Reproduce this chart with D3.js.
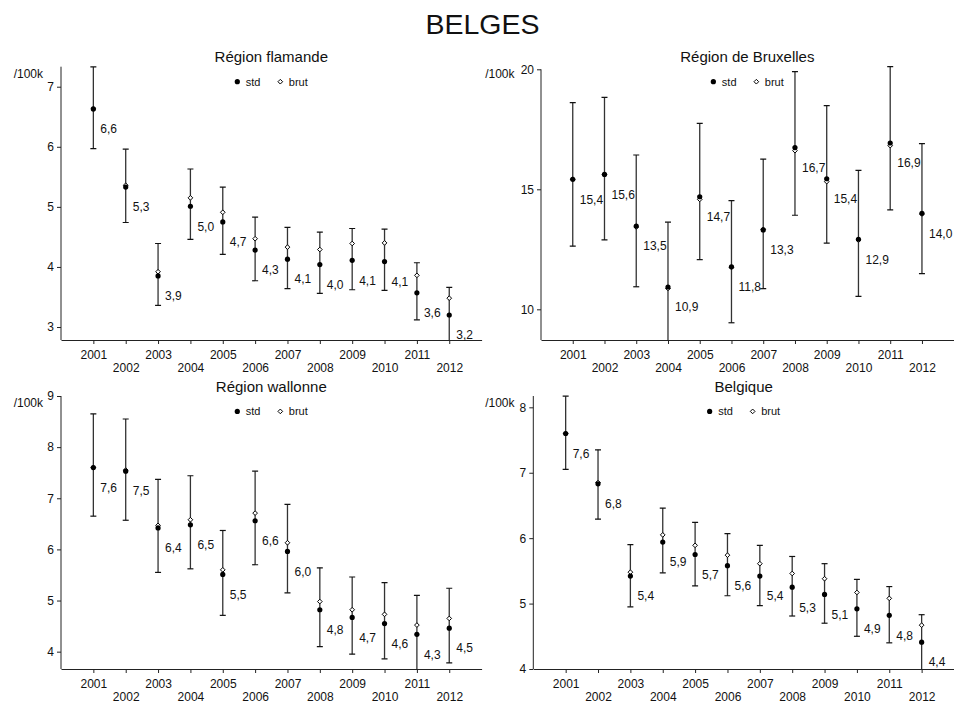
<!DOCTYPE html>
<html>
<head>
<meta charset="utf-8">
<script src="https://cdnjs.cloudflare.com/ajax/libs/d3/7.8.5/d3.min.js"></script>
<style>
  body { margin: 0; background: #fff; }
  text { font-family: "Liberation Sans", Arial, sans-serif; fill: #111; }
</style>
</head>
<body>
<div class="chart"></div>
<script>
// years on the x axis
var years = [2001, 2002, 2003, 2004, 2005, 2006, 2007, 2008, 2009, 2010, 2011, 2012];

// Région flamande
var flamStd  = [6.63, 5.33, 3.85, 5.01, 4.75, 4.28, 4.13, 4.04, 4.11, 4.09, 3.57, 3.20];
var flamBrut = [6.63, 5.36, 3.92, 5.15, 4.91, 4.47, 4.33, 4.29, 4.39, 4.40, 3.86, 3.48];
var flamLo   = [5.97, 4.74, 3.36, 4.46, 4.21, 3.77, 3.64, 3.56, 3.62, 3.61, 3.12, 2.75];
var flamHi   = [7.33, 5.96, 4.39, 5.63, 5.33, 4.83, 4.66, 4.58, 4.64, 4.63, 4.07, 3.66];
var flamLab  = ["6,6", "5,3", "3,9", "5,0", "4,7", "4,3", "4,1", "4,0", "4,1", "4,1", "3,6", "3,2"];

// Région de Bruxelles
var bruStd  = [15.42, 15.62, 13.47, 10.93, 14.69, 11.77, 13.31, 16.74, 15.44, 12.92, 16.93, 14.00];
var bruBrut = [15.42, 15.62, 13.43, 10.87, 14.58, 11.75, 13.33, 16.61, 15.32, 12.89, 16.82, 13.97];
var bruLo   = [12.63, 12.89, 10.94, 8.50, 12.07, 9.44, 10.86, 13.92, 12.76, 10.54, 14.14, 11.49];
var bruHi   = [18.61, 18.83, 16.43, 13.63, 17.75, 14.53, 16.26, 19.90, 18.49, 15.79, 20.11, 16.90];
var bruLab  = ["15,4", "15,6", "13,5", "10,9", "14,7", "11,8", "13,3", "16,7", "15,4", "12,9", "16,9", "14,0"];

// Région wallonne
var walStd  = [7.60, 7.53, 6.42, 6.48, 5.51, 6.56, 5.96, 4.82, 4.67, 4.55, 4.34, 4.46];
var walBrut = [7.60, 7.55, 6.47, 6.58, 5.60, 6.71, 6.13, 4.98, 4.82, 4.73, 4.52, 4.65];
var walLo   = [6.65, 6.57, 5.55, 5.62, 4.71, 5.70, 5.15, 4.10, 3.95, 3.86, 3.60, 3.78];
var walHi   = [8.65, 8.55, 7.37, 7.44, 6.37, 7.53, 6.88, 5.64, 5.46, 5.35, 5.10, 5.24];
var walLab  = ["7,6", "7,5", "6,4", "6,5", "5,5", "6,6", "6,0", "4,8", "4,7", "4,6", "4,3", "4,5"];

// Belgique
var belStd  = [7.60, 6.83, 5.42, 5.94, 5.75, 5.58, 5.42, 5.25, 5.14, 4.92, 4.82, 4.41];
var belBrut = [7.60, 6.85, 5.48, 6.05, 5.89, 5.74, 5.61, 5.46, 5.38, 5.17, 5.08, 4.67];
var belLo   = [7.05, 6.29, 4.95, 5.47, 5.27, 5.12, 4.97, 4.81, 4.70, 4.50, 4.40, 3.98];
var belHi   = [8.17, 7.35, 5.90, 6.46, 6.24, 6.07, 5.89, 5.72, 5.61, 5.37, 5.26, 4.83];
var belLab  = ["7,6", "6,8", "5,4", "5,9", "5,7", "5,6", "5,4", "5,3", "5,1", "4,9", "4,8", "4,4"];

// y ticks per panel
var flamTicks = [3, 4, 5, 6, 7];
var bruTicks  = [10, 15, 20];
var walTicks  = [4, 5, 6, 7, 8, 9];
var belTicks  = [4, 5, 6, 7, 8];

function rows(std, brut, lo, hi, lab) {
  return years.map(function(y, i) {
    return {year: y, std: std[i], brut: brut[i], lo: lo[i], hi: hi[i], label: lab[i]};
  });
}

// layout of the four panels (pixel boxes of the plot areas)
var panels = [
  {title: "Région flamande", data: rows(flamStd, flamBrut, flamLo, flamHi, flamLab), ticks: flamTicks,
   yDomain: [2.784, 7.333], left: 61, right: 481.6, top: 66.7, bottom: 340, titleY: 62, unitX: 43},
  {title: "Région de Bruxelles", data: rows(bruStd, bruBrut, bruLo, bruHi, bruLab), ticks: bruTicks,
   yDomain: [8.722, 20], left: 541, right: 953.7, top: 69.3, bottom: 340, titleY: 62, unitX: 514.5},
  {title: "Région wallonne", data: rows(walStd, walBrut, walLo, walHi, walLab), ticks: walTicks,
   yDomain: [3.661, 9], left: 61, right: 481.6, top: 396, bottom: 669, titleY: 391.7, unitX: 43},
  {title: "Belgique", data: rows(belStd, belBrut, belLo, belHi, belLab), ticks: belTicks,
   yDomain: [4.0, 8.173], left: 533.3, right: 954, top: 396, bottom: 669, titleY: 391.7, unitX: 514.5}
];

var svg = d3.select(".chart")
  .append("svg")
    .attr("width", 954)
    .attr("height", 705);

// main title
svg.append("text")
  .attr("x", 482.5)
  .attr("y", 33.5)
  .attr("text-anchor", "middle")
  .style("font-size", "28.5px")
  .text("BELGES");

var diamond = d3.symbol().type(d3.symbolDiamond2).size(14);

panels.forEach(function(p, k) {
  var g = svg.append("g");
  var cx = (p.left + p.right) / 2;

  var x = d3.scaleLinear().domain([2000, 2013]).range([p.left, p.right]);
  var y = d3.scaleLinear().domain(p.yDomain).range([p.bottom, p.top]);

  // panel title + legend
  g.append("text")
    .attr("x", cx).attr("y", p.titleY)
    .attr("text-anchor", "middle")
    .style("font-size", "15px")
    .text(p.title);

  var ly = p.titleY + 19.7;
  g.append("circle").attr("cx", cx - 34).attr("cy", ly).attr("r", 2.6).attr("fill", "#000");
  g.append("text").attr("x", cx - 25.5).attr("y", ly + 4).style("font-size", "11px").text("std");
  g.append("path").attr("d", diamond)
    .attr("transform", "translate(" + (cx + 9) + "," + ly + ")")
    .attr("fill", "#fff").attr("stroke", "#000").attr("stroke-width", 1);
  g.append("text").attr("x", cx + 17.5).attr("y", ly + 4).style("font-size", "11px").text("brut");

  // unit label
  g.append("text")
    .attr("x", p.unitX).attr("y", p.titleY + 15.6)
    .attr("text-anchor", "end")
    .style("font-size", "12px")
    .text("/100k");

  // y axis
  var yAxis = g.append("g")
    .attr("transform", "translate(" + p.left + ",0)")
    .call(d3.axisLeft(y).tickValues(p.ticks).tickFormat(d3.format("d"))
      .tickSize(4).tickPadding(3).tickSizeOuter(0));
  yAxis.select(".domain").attr("d", "M0," + p.bottom + "V" + p.top);

  // x axis, labels staggered on two rows
  var xAxis = g.append("g")
    .attr("transform", "translate(0," + p.bottom + ")")
    .call(d3.axisBottom(x).tickValues(years).tickFormat(d3.format("d")).tickSize(4).tickSizeOuter(0));
  xAxis.selectAll(".tick text")
    .attr("dy", null)
    .attr("y", function(d, i) { return i % 2 === 0 ? 19.3 : 32.3; });

  [yAxis, xAxis].forEach(function(a) {
    a.selectAll("text").style("font-size", "12px").attr("fill", "#111")
      .style("font-family", "'Liberation Sans', Arial, sans-serif");
    a.selectAll("line, path").attr("stroke", "#222").attr("stroke-width", 1);
  });

  // clip marks at the x axis
  svg.append("clipPath").attr("id", "clip" + k)
    .append("rect")
      .attr("x", p.left).attr("y", p.top - 20)
      .attr("width", p.right - p.left).attr("height", p.bottom - p.top + 20);

  var marks = g.append("g").attr("clip-path", "url(#clip" + k + ")");

  // error bars
  var bars = marks.selectAll(".bar")
    .data(p.data)
    .enter()
    .append("g");
  bars.append("line")
    .attr("x1", function(d) { return x(d.year); })
    .attr("x2", function(d) { return x(d.year); })
    .attr("y1", function(d) { return y(d.lo); })
    .attr("y2", function(d) { return y(d.hi); })
    .attr("stroke", "#333").attr("stroke-width", 1.3);
  bars.append("line")
    .attr("x1", function(d) { return x(d.year) - 3; })
    .attr("x2", function(d) { return x(d.year) + 3; })
    .attr("y1", function(d) { return y(d.hi); })
    .attr("y2", function(d) { return y(d.hi); })
    .attr("stroke", "#111").attr("stroke-width", 1.2);
  bars.append("line")
    .attr("x1", function(d) { return x(d.year) - 3; })
    .attr("x2", function(d) { return x(d.year) + 3; })
    .attr("y1", function(d) { return y(d.lo); })
    .attr("y2", function(d) { return y(d.lo); })
    .attr("stroke", "#111").attr("stroke-width", 1.2);

  // brut (open diamonds) under std (filled dots)
  marks.selectAll(".brut")
    .data(p.data)
    .enter()
    .append("path")
      .attr("d", diamond)
      .attr("transform", function(d) { return "translate(" + x(d.year) + "," + y(d.brut) + ")"; })
      .attr("fill", "#fff").attr("stroke", "#000").attr("stroke-width", 1);

  marks.selectAll(".std")
    .data(p.data)
    .enter()
    .append("circle")
      .attr("cx", function(d) { return x(d.year); })
      .attr("cy", function(d) { return y(d.std); })
      .attr("r", 2.6)
      .attr("fill", "#000");

  // value labels
  g.selectAll(".lab")
    .data(p.data)
    .enter()
    .append("text")
      .attr("x", function(d) { return x(d.year) + 7; })
      .attr("y", function(d) { return y(d.std) + 24.3; })
      .style("font-size", "12px")
      .text(function(d) { return d.label; });
});
</script>
</body>
</html>
